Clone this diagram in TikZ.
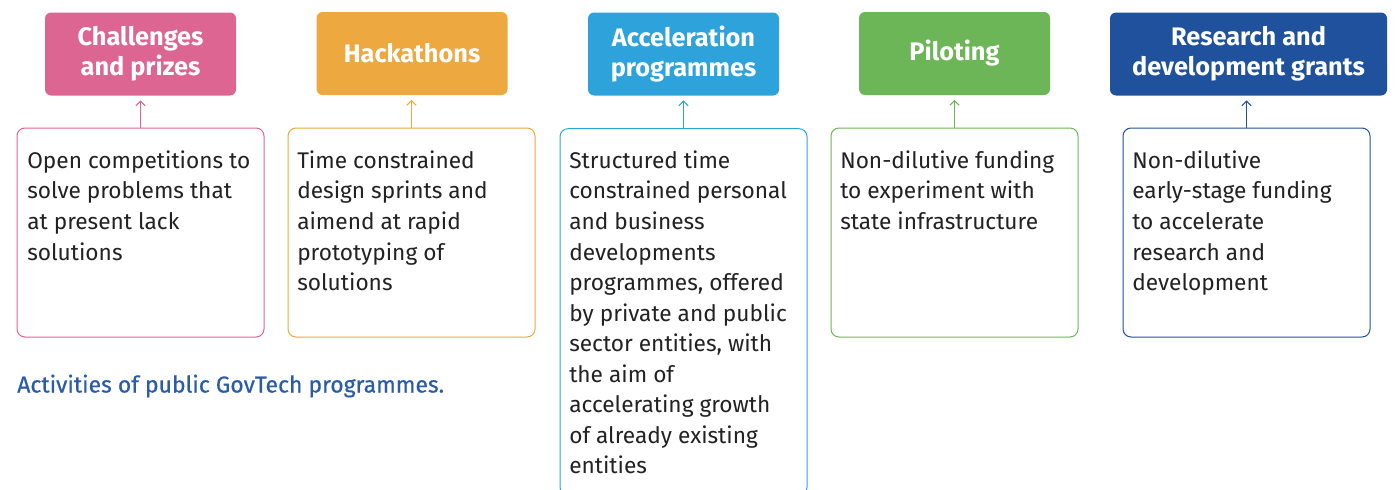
\documentclass[tikz,border=0pt]{standalone}
\usepackage{fontspec}
\setmainfont{Fira Sans}
\newfontfamily\capfont[FakeBold=0.6]{Fira Sans}
\usetikzlibrary{arrows.meta}
\definecolor{cpink}{HTML}{DD6591}
\definecolor{corange}{HTML}{EDA83F}
\definecolor{clblue}{HTML}{2EA3DB}
\definecolor{cgreen}{HTML}{6CB657}
\definecolor{cdblue}{HTML}{1F519C}
\definecolor{ctext}{HTML}{222222}
\definecolor{ccap}{HTML}{2A5CAA}
\tikzset{
  topbox/.style={rounded corners=4.5pt, inner sep=0pt, minimum width=143.25pt, minimum height=62.25pt, text=white, align=center, font=\fontsize{19}{22.5}\selectfont\bfseries},
  botbox/.style={draw, line width=0.75pt, rounded corners=6pt, inner sep=0pt, minimum width=185.25pt, minimum height=156.75pt, fill=white},
  bodytext/.style={anchor=north west, inner sep=0pt, align=left, text=ctext, font=\fontsize{17}{22.9}\selectfont},
  arr/.style={line width=0.75pt, -{Straight Barb[length=3.5pt,width=7pt,line width=0.75pt]}, shorten >=3.5pt}
}
\begin{document}
\begin{tikzpicture}[x=0.75pt,y=-0.75pt]
\useasboundingbox (0,0) rectangle (1395,489);
% top boxes
\node[topbox, fill=cpink] (a1) at (140.5,54) {Challenges\\and prizes};
\node[topbox, fill=corange] (a2) at (412,53.5) {Hackathons};
\node[topbox, fill=clblue] (a3) at (683.5,54) {Acceleration\\programmes};
\node[topbox, fill=cgreen] (a4) at (954.5,53.5) {Piloting};
\node[topbox, fill=cdblue, minimum width=207.75pt] (a5) at (1248.5,54) {Research and\\development grants};
% bottom boxes
\node[botbox, draw=cpink] (b1) at (140.5,232.5) {};
\node[botbox, draw=corange] (b2) at (411.5,232.5) {};
\node[botbox, draw=clblue, minimum height=275pt] (b3) at (683.5,312) {};
\node[botbox, draw=cgreen] (b4) at (954.5,232.5) {};
\node[botbox, draw=cdblue] (b5) at (1246.5,232.5) {};
% arrows
\draw[arr, cpink] (b1.north) -- (b1.north |- a1.south);
\draw[arr, corange] (b2.north) -- (b2.north |- a2.south);
\draw[arr, clblue] (b3.north) -- (b3.north |- a3.south);
\draw[arr, cgreen] (b4.north) -- (b4.north |- a4.south);
\draw[arr, cdblue] (b5.north) -- (b5.north |- a5.south);
% texts
\node[bodytext] (t1) at (27,150.5) {Open competitions to\\solve problems that\\at present lack\\solutions};
\node[bodytext] (t2) at (297,150.5) {Time constrained\\design sprints and\\aimend at rapid\\prototyping of\\solutions};
\node[bodytext] (t3) at (569,150.5) {Structured time\\constrained personal\\and business\\developments\\programmes, offered\\by private and public\\sector entities, with\\the aim of\\accelerating growth\\of already existing\\entities};
\node[bodytext] (t4) at (840,150.5) {Non-dilutive funding\\to experiment with\\state infrastructure};
\node[bodytext] (t5) at (1132,150.5) {Non-dilutive\\early-stage funding\\to accelerate\\research and\\development};
\node[anchor=west, inner sep=0pt, text=ccap, font=\capfont\fontsize{17.2}{18}\selectfont] (cap) at (17,386) {Activities of public GovTech programmes.};
\end{tikzpicture}
\end{document}
